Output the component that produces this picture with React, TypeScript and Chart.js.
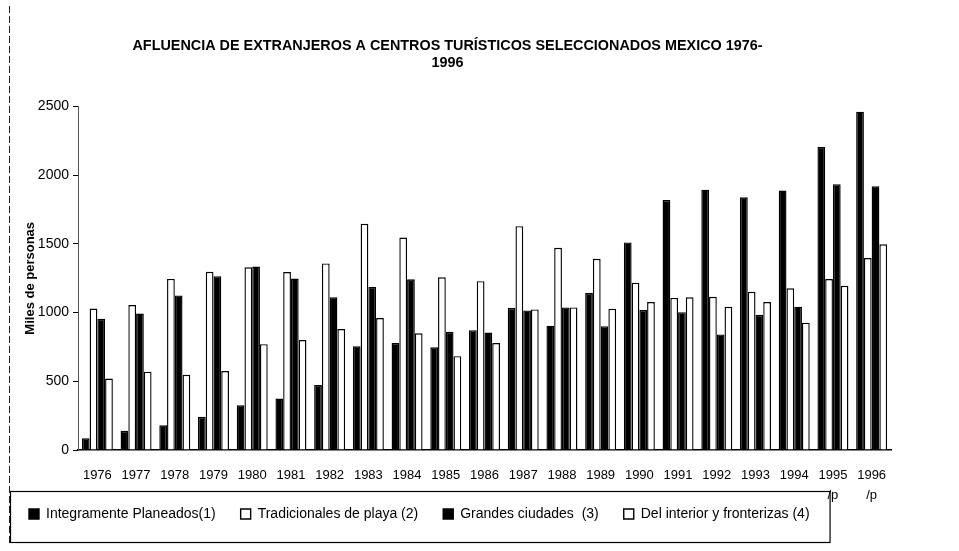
import React, { useEffect, useRef } from "react";
import { Chart, registerables } from "chart.js";

Chart.register(...registerables);

const categories: (string | string[])[] = [
  "1976", "1977", "1978", "1979", "1980", "1981", "1982", "1983", "1984", "1985",
  "1986", "1987", "1988", "1989", "1990", "1991", "1992", "1993", "1994",
  ["1995", "/p"], ["1996", "/p"],
];

const integramentePlaneados = [
  85, 140, 180, 242, 325, 375, 474, 755, 778, 748,
  872, 1033, 905, 1143, 1511, 1819, 1895, 1840, 1889, 2206, 2463,
];
const tradicionalesPlaya = [
  1030, 1055, 1245, 1297, 1330, 1295, 1358, 1647, 1546, 1257,
  1229, 1629, 1472, 1392, 1218, 1107, 1115, 1152, 1177, 1244, 1397,
];
const grandesCiudades = [
  955, 993, 1125, 1265, 1335, 1248, 1112, 1187, 1243, 860,
  855, 1016, 1038, 901, 1019, 1003, 841, 984, 1043, 1935, 1920,
];
const interiorFronterizas = [
  520, 570, 547, 575, 770, 800, 880, 961, 850, 683,
  778, 1023, 1038, 1029, 1077, 1112, 1042, 1077, 927, 1195, 1497,
];

const seriesNames = [
  "Integramente Planeados(1)",
  "Tradicionales de playa (2)",
  "Grandes ciudades  (3)",
  "Del interior y fronterizas (4)",
];

const titleLines = [
  "AFLUENCIA DE EXTRANJEROS A CENTROS TURÍSTICOS SELECCIONADOS MEXICO 1976-",
  "1996",
];
const yTitle = "Miles de personas";
const yTicks = [0, 500, 1000, 1500, 2000, 2500];

const FONT = "'Liberation Sans', Arial, sans-serif";

const framePlugin = {
  id: "frame",
  afterLayout(chart: any) {
    // let the two-line category labels ("1995 /p") show below the axis band
    const x = chart.scales.x;
    if (x) x.bottom += 24;
  },
  afterDraw(chart: any) {
    const ctx = chart.ctx;
    const lg = chart.legend;
    ctx.save();
    ctx.strokeStyle = "#222";
    ctx.lineWidth = 1;
    ctx.setLineDash([7, 3]);
    ctx.beginPath();
    ctx.moveTo(9.5, 6);
    ctx.lineTo(9.5, chart.height - 6);
    ctx.stroke();
    ctx.setLineDash([]);
    if (lg && lg.legendHitBoxes && lg.legendHitBoxes.length) {
      const last = lg.legendHitBoxes[lg.legendHitBoxes.length - 1];
      const x0 = lg.left + 6;
      const x1 = last.left + last.width + 20;
      const y0 = lg.top + 9;
      const y1 = lg.bottom + 11;
      ctx.strokeStyle = "#000";
      ctx.lineWidth = 1.2;
      ctx.strokeRect(x0 + 0.5, y0 + 0.5, x1 - x0, y1 - y0);
    }
    ctx.restore();
  },
};

export default function App() {
  const canvasRef = useRef<HTMLCanvasElement | null>(null);

  useEffect(() => {
    const canvas = canvasRef.current;
    if (!canvas) return;
    const mk = (label: string, data: number[], fill: string) => ({
      label,
      data,
      backgroundColor: fill,
      borderColor: "#000",
      borderWidth: 1.4,
      borderSkipped: "bottom" as const,
    });
    const chart = new Chart(canvas, {
      type: "bar",
      data: {
        labels: categories,
        datasets: [
          mk(seriesNames[0], integramentePlaneados, "#000"),
          mk(seriesNames[1], tradicionalesPlaya, "#fff"),
          mk(seriesNames[2], grandesCiudades, "#000"),
          mk(seriesNames[3], interiorFronterizas, "#fff"),
        ],
      },
      options: {
        animation: false,
        responsive: true,
        maintainAspectRatio: false,
        layout: { padding: { left: 4, right: 68, top: 0, bottom: 20 } },
        datasets: {
          bar: { categoryPercentage: 0.8, barPercentage: 1 },
        },
        plugins: {
          title: {
            display: true,
            text: titleLines,
            color: "#000",
            font: { family: FONT, size: 14.4, weight: "bold", lineHeight: 1.2 },
            padding: { top: 37, bottom: 35 },
          },
          legend: {
            position: "bottom",
            align: "start",
            labels: {
              color: "#000",
              font: { family: FONT, size: 14 },
              boxWidth: 10,
              boxHeight: 10,
              padding: 25,
            },
          },
          tooltip: { enabled: false },
        },
        scales: {
          x: {
            grid: { display: true, drawOnChartArea: false, drawTicks: false },
            border: { display: true, color: "#000", width: 1.5 },
            ticks: {
              color: "#000",
              font: { family: FONT, size: 13, lineHeight: 1.5 },
              padding: 16,
              maxRotation: 0,
              autoSkip: false,
            },
            afterFit: (s: any) => {
              s.height = 32;
            },
          },
          y: {
            min: 0,
            max: 2500,
            afterBuildTicks: (s: any) => {
              s.ticks = yTicks.map((v) => ({ value: v }));
            },
            grid: {
              display: true,
              drawOnChartArea: false,
              drawTicks: true,
              tickLength: 5,
              color: "#000",
            },
            border: { display: true, color: "#555", width: 1, dash: [2, 3] },
            ticks: {
              color: "#000",
              font: { family: FONT, size: 14 },
              padding: 4,
              callback: (v: any) => String(v),
            },
            title: {
              display: true,
              text: yTitle,
              color: "#000",
              font: { family: FONT, size: 13, weight: "bold" },
              padding: { top: 19, bottom: 0 },
            },
            afterFit: (s: any) => {
              s.width = 74;
            },
          },
        },
      },
      plugins: [framePlugin],
    });
    return () => chart.destroy();
  }, []);

  return (
    <div style={{ position: "fixed", left: 0, top: 0, width: 959, height: 551, background: "#fff" }}>
      <canvas ref={canvasRef} />
    </div>
  );
}
